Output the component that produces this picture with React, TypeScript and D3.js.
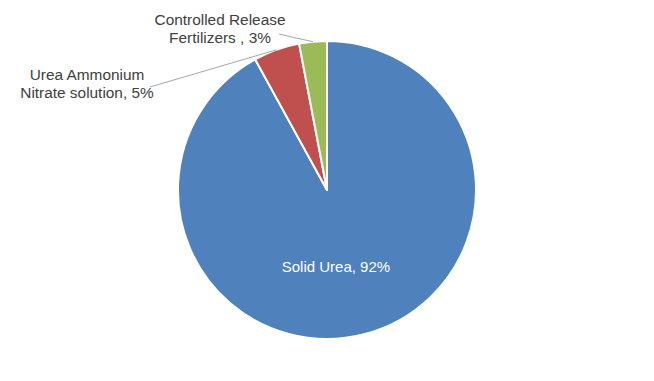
import React from "react";
import * as d3 from "d3";

const categories = ["Solid Urea", "Urea Ammonium Nitrate solution", "Controlled Release Fertilizers "];
const values = [92, 5, 3];
const colors = ["#4F81BD", "#C0504D", "#9BBB59"];

const W = 654, H = 381;
const cx = 327, cy = 190, R = 149;

export default function App() {
  const pie = d3.pie<number>().sort(null).value((d) => d);
  const arcs = pie(values);
  const arc = d3.arc<d3.PieArcDatum<number>>().innerRadius(0).outerRadius(R);
  const mid = (a: d3.PieArcDatum<number>) => (a.startAngle + a.endAngle) / 2;
  const pt = (ang: number, r: number): [number, number] => [r * Math.sin(ang), -r * Math.cos(ang)];

  const inside = arcs[0];
  const [ix, iy] = pt(mid(inside), 80);

  const red = arcs[1];
  const green = arcs[2];
  const [rx, ry] = pt(mid(red), R);
  const [gx, gy] = pt(mid(green), R);

  const font = "'Liberation Sans', Arial, sans-serif";
  return (
    <svg width={W} height={H} style={{ position: "absolute", left: 0, top: 0, background: "#fff" }} fontFamily={font}>
      <g transform={`translate(${cx},${cy})`}>
        {arcs.map((a, i) => (
          <path key={i} d={arc(a) || ""} fill={colors[i]} stroke="#fff" strokeWidth={2} strokeLinejoin="round" />
        ))}
        <text x={ix - 11} y={iy + 5} textAnchor="middle" fill="#fff" fontSize={15}>
          {`${categories[0]}, ${values[0]}%`}
        </text>
        <polyline points={`${rx},${ry} ${150 - cx},${87 - cy}`} fill="none" stroke="#A6A6A6" strokeWidth={1} />
        <polyline points={`${gx},${gy} ${296 - cx},${38 - cy} ${279 - cx},${34 - cy}`} fill="none" stroke="#A6A6A6" strokeWidth={1} />
      </g>
      <text textAnchor="middle" fill="#404040" fontSize={15.4}>
        <tspan x={220} y={25}>Controlled Release</tspan>
        <tspan x={220} y={43}>{`Fertilizers , ${values[2]}%`}</tspan>
      </text>
      <text textAnchor="middle" fill="#404040" fontSize={15.4}>
        <tspan x={87} y={80}>Urea Ammonium</tspan>
        <tspan x={87} y={98}>{`Nitrate solution, ${values[1]}%`}</tspan>
      </text>
    </svg>
  );
}
